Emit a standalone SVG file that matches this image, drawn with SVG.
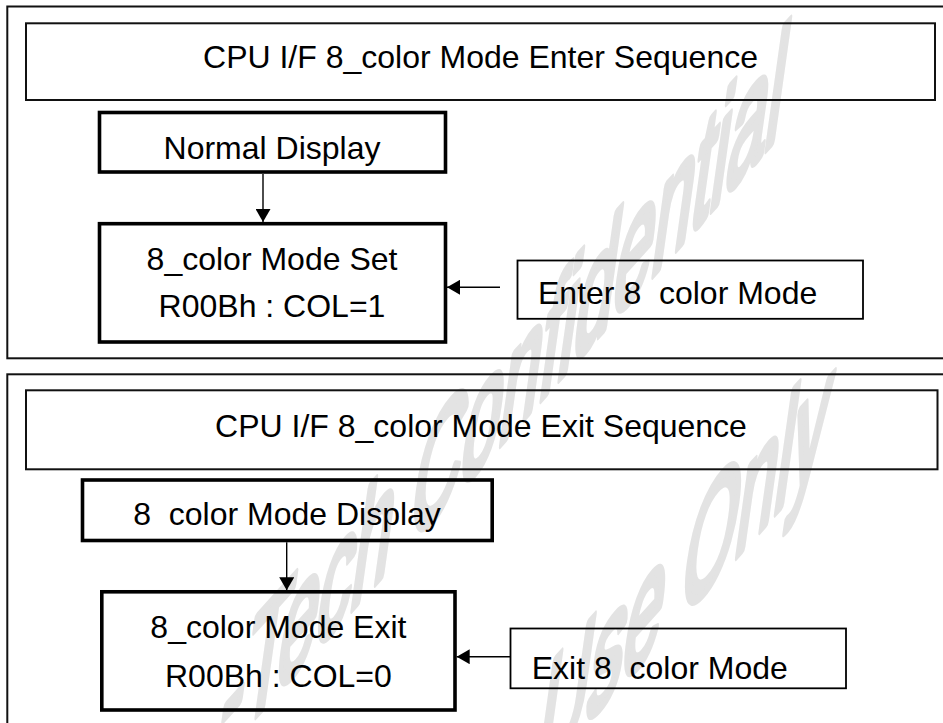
<svg xmlns="http://www.w3.org/2000/svg" width="943" height="723" viewBox="0 0 943 723">
<style>
.wm{font-family:"Liberation Sans",Arial,sans-serif;font-size:100px;fill:#e3e3e3;stroke:#e3e3e3;stroke-width:6;stroke-linejoin:round}
.frame{fill:none;stroke:#111;stroke-width:2}
.title{fill:none;stroke:#111;stroke-width:2}
.thick{fill:none;stroke:#000;stroke-width:3.6}
.thin{fill:none;stroke:#000;stroke-width:1.8}
.t{font-family:"Liberation Sans",Arial,sans-serif;font-size:32px;fill:#000;white-space:pre}
.c{text-anchor:middle}
.conn{stroke:#000;stroke-width:1.4;fill:none;marker-end:url(#ah)}
</style>
<defs>
<marker id="ah" markerUnits="userSpaceOnUse" markerWidth="14" markerHeight="15" refX="13" refY="7.5" orient="auto">
<path d="M0,0 L13,7.5 L0,15 z" fill="#000"/>
</marker>
</defs>
<rect width="943" height="723" fill="#fff"/>
<g id="watermark">
<text class="wm" transform="matrix(0.703,-0.78,-0.236,1.683,215,761)">-Tech Confidential</text>
<text class="wm" transform="matrix(0.703,-0.78,-0.236,1.683,533,782)">Use Only</text>
</g>
<g id="enter-frame">
<rect class="frame" x="7.3" y="6.5" width="950" height="351.8"/>
</g>
<g id="enter-title">
<rect class="title" x="26" y="23.3" width="909" height="76.7"/>
<text class="t c" x="480.5" y="68">CPU I/F 8_color Mode Enter Sequence</text>
</g>
<g id="normal-display">
<rect class="thick" x="99.5" y="112.5" width="346" height="59.5"/>
<text class="t c" x="272" y="159">Normal Display</text>
</g>
<g id="mode-set">
<rect class="thick" x="99.5" y="223.7" width="346" height="118.3"/>
<text class="t c" x="272" y="270">8_color Mode Set</text>
<text class="t c" x="272" y="317.3">R00Bh : COL=1</text>
</g>
<g id="enter-mode">
<rect class="thin" x="517.5" y="260.5" width="345.5" height="58.3"/>
<text class="t" x="538" y="304" xml:space="preserve">Enter 8  color Mode</text>
</g>
<g id="exit-frame">
<rect class="frame" x="7.3" y="374.3" width="950" height="400"/>
</g>
<g id="exit-title">
<rect class="title" x="26" y="390.3" width="911.5" height="79"/>
<text class="t c" x="481" y="436.7">CPU I/F 8_color Mode Exit Sequence</text>
</g>
<g id="color8-display">
<rect class="thick" x="82.5" y="480" width="409.7" height="60.5"/>
<text class="t c" x="287" y="525" xml:space="preserve">8  color Mode Display</text>
</g>
<g id="mode-exit">
<rect class="thick" x="101.8" y="591.8" width="353.2" height="118.2"/>
<text class="t c" x="278.4" y="638.3">8_color Mode Exit</text>
<text class="t c" x="278.4" y="686.7">R00Bh : COL=0</text>
</g>
<g id="exit-mode">
<rect class="thin" x="510.5" y="628.5" width="335.5" height="59.8"/>
<text class="t" x="531.7" y="679.3" xml:space="preserve">Exit 8  color Mode</text>
</g>
<g id="connectors">
<line class="conn" x1="263" y1="174" x2="263" y2="222"/>
<line class="conn" x1="500" y1="287.3" x2="447" y2="287.3"/>
<line class="conn" x1="286.7" y1="542.3" x2="286.7" y2="590.3"/>
<line class="conn" x1="510" y1="656.7" x2="456.7" y2="656.7"/>
</g>
</svg>
